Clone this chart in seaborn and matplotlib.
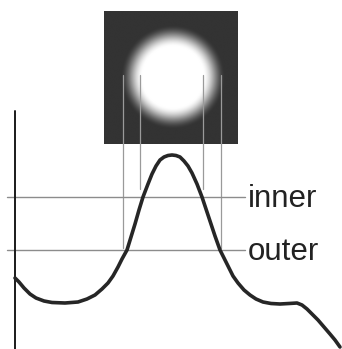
import matplotlib
matplotlib.use("Agg")
import matplotlib.pyplot as plt
import numpy as np
import pandas as pd
import seaborn as sns

# profile curve (pixel coords, y grows downward)
curve_x = [15, 19, 24, 30, 36, 44, 52, 65, 78, 87, 95, 102, 108, 113, 118, 122,
           127, 131, 135, 139, 143, 148, 152, 156, 160, 164, 168, 172, 176, 180,
           184, 188, 192, 197, 202, 206, 210, 215, 220, 224, 228, 233, 238, 244,
           250, 256, 263, 271, 280, 289, 297, 302, 307, 312, 318, 324, 330, 335, 340]
curve_y = [278, 282, 288, 294, 298, 301, 302.5, 303, 302, 299, 295, 289, 283, 276,
           267, 259, 250, 237, 224, 210, 197, 184, 174, 166, 160, 157, 155.5, 155,
           155.5, 157, 161, 166, 173, 184, 197, 209, 221, 236, 250, 258, 266, 276,
           283, 290, 295, 299, 302, 303.5, 304, 303.5, 303, 305, 309, 314, 320, 327,
           334, 340, 347]

# threshold levels
level_names = ["inner", "outer"]
level_y = [197, 250]

# drop lines from circle edges down to the curve
guide_x = [123, 140, 203, 221]
guide_top = [75, 75, 75, 75]
guide_bottom = [248, 189, 189, 248]

# spot image
img_left, img_right, img_top, img_bottom = 104, 238, 11, 144
spot_cx, spot_cy, spot_r = 173, 77, 37


def spot_image(n=240):
    xs = np.linspace(img_left, img_right, n)
    ys = np.linspace(img_top, img_bottom, n)
    gx, gy = np.meshgrid(xs, ys)
    d = np.hypot(gx - spot_cx, gy - spot_cy)
    t = np.clip((d - spot_r * 0.82) / (spot_r * 0.6), 0, 1)
    t = t * t * (3 - 2 * t)
    bg = 0.2
    return 1 - (1 - bg) * t


def main() -> None:
    sns.set_theme(style="white")
    plt.rcParams["font.family"] = ["Liberation Sans", "DejaVu Sans"]
    fig = plt.figure(figsize=(3.42, 3.49), dpi=100)
    ax = fig.add_axes([0, 0, 1, 1])

    ax.imshow(spot_image(), cmap="gray", vmin=0, vmax=1,
              extent=(img_left, img_right, img_bottom, img_top), zorder=1)

    for x, y0, y1 in zip(guide_x, guide_top, guide_bottom):
        ax.plot([x, x], [y0, y1], color="#9a9a9a", lw=0.9, zorder=2)

    for name, y in zip(level_names, level_y):
        ax.plot([7, 245], [y, y], color="#8c8c8c", lw=1.0, zorder=2)
        ax.text(248, y + 10, name, fontsize=22.5, color="#222222",
                va="baseline", ha="left")

    ax.plot([15, 15], [111, 349], color="#1a1a1a", lw=1.4, zorder=3)

    df = pd.DataFrame({"x": curve_x, "y": curve_y})
    sns.lineplot(data=df, x="x", y="y", sort=False, color="#262626",
                 lw=2.6, ax=ax, zorder=4)
    ax.set_xlim(0, 342)
    ax.set_ylim(349, 0)
    ax.axis("off")

    fig.savefig("out.png", dpi=100)
    plt.close(fig)


if __name__ == "__main__":
    main()
